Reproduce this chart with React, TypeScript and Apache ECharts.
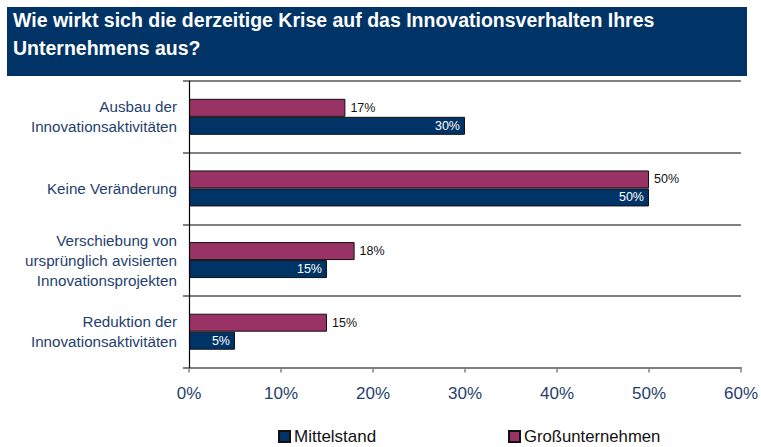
import React, { useEffect, useRef } from "react";
import * as echarts from "echarts";

const categories = [
  "Ausbau der\nInnovationsaktivitäten",
  "Keine Veränderung",
  "Verschiebung von\nursprünglich avisierten\nInnovationsprojekten",
  "Reduktion der\nInnovationsaktivitäten",
];
const mittelstand = [30, 50, 15, 5];
const grossunternehmen = [17, 50, 18, 15];
const xTicks = { min: 0, max: 60, interval: 10 };
const titleText = "Wie wirkt sich die derzeitige Krise auf das Innovationsverhalten Ihres\nUnternehmens aus?";

const NAVY = "#003366";
const MAGENTA = "#993366";
const LABEL = "#1f3f6e";
const FONT = "Liberation Sans, Arial, sans-serif";

export default function App() {
  const ref = useRef<HTMLDivElement>(null);
  useEffect(() => {
    document.body.style.margin = "0";
    const chart = echarts.init(ref.current!, null, { renderer: "svg" });
    chart.setOption({
      animation: false,
      textStyle: { fontFamily: FONT },
      graphic: [
        {
          type: "rect",
          shape: { x: 7, y: 7, width: 740, height: 69 },
          style: { fill: NAVY },
          z: 0,
        },
      ],
      title: {
        text: titleText,
        left: 13,
        top: 6,
        padding: 0,
        textStyle: {
          color: "#ffffff",
          fontWeight: "bold",
          fontSize: 19.5,
          lineHeight: 28,
          fontFamily: FONT,
        },
        z: 10,
      },
      legend: [
        {
          data: ["Mittelstand"],
          left: 278,
          top: 428,
          itemWidth: 11,
          itemHeight: 11,
          padding: 0,
          icon: "rect",
          textStyle: { color: "#111", fontSize: 17, fontFamily: FONT, padding: [0, 0, 0, -1] },
        },
        {
          data: ["Großunternehmen"],
          left: 508,
          top: 428,
          itemWidth: 11,
          itemHeight: 11,
          padding: 0,
          icon: "rect",
          textStyle: { color: "#111", fontSize: 16.7, fontFamily: FONT, padding: [0, 0, 0, -1] },
        },
      ],
      grid: { left: 189, right: 17, top: 81, bottom: 79.5, containLabel: false },
      xAxis: {
        type: "value",
        min: xTicks.min,
        max: xTicks.max,
        interval: xTicks.interval,
        axisLabel: {
          formatter: "{value}%",
          color: LABEL,
          fontSize: 17,
          margin: 17,
          fontFamily: FONT,
        },
        axisLine: { show: true, lineStyle: { color: "#808080", width: 2 } },
        axisTick: { show: true, length: 5, lineStyle: { color: "#808080", width: 1.5 } },
        splitLine: { show: false },
      },
      yAxis: {
        type: "category",
        data: categories,
        inverse: true,
        axisLabel: {
          color: LABEL,
          fontSize: 15.2,
          lineHeight: 20,
          margin: 12,
          align: "right",
          fontFamily: FONT,
        },
        axisLine: { show: true, lineStyle: { color: "#000", width: 1.2 } },
        axisTick: { show: true, length: 6, lineStyle: { color: "#808080", width: 2 } },
        splitLine: { show: true, lineStyle: { color: "#808080", width: 2 } },
        z: 5,
      },
      series: [
        {
          name: "Großunternehmen",
          type: "bar",
          data: grossunternehmen,
          barWidth: 18,
          barGap: "0%",
          itemStyle: { color: MAGENTA, borderColor: "#111", borderWidth: 1 },
          label: {
            show: true,
            position: "right",
            distance: 5,
            formatter: "{c}%",
            color: "#111",
            fontSize: 12.5,
            fontFamily: FONT,
          },
        },
        {
          name: "Mittelstand",
          type: "bar",
          data: mittelstand,
          barWidth: 18,
          barGap: "0%",
          itemStyle: { color: NAVY, borderColor: "#111", borderWidth: 1 },
          label: {
            show: true,
            position: "insideRight",
            formatter: "{c}%",
            color: "#ffffff",
            fontSize: 12.5,
            fontFamily: FONT,
          },
        },
      ],
    });
    return () => chart.dispose();
  }, []);
  return <div ref={ref} style={{ width: 761, height: 447 }} />;
}
